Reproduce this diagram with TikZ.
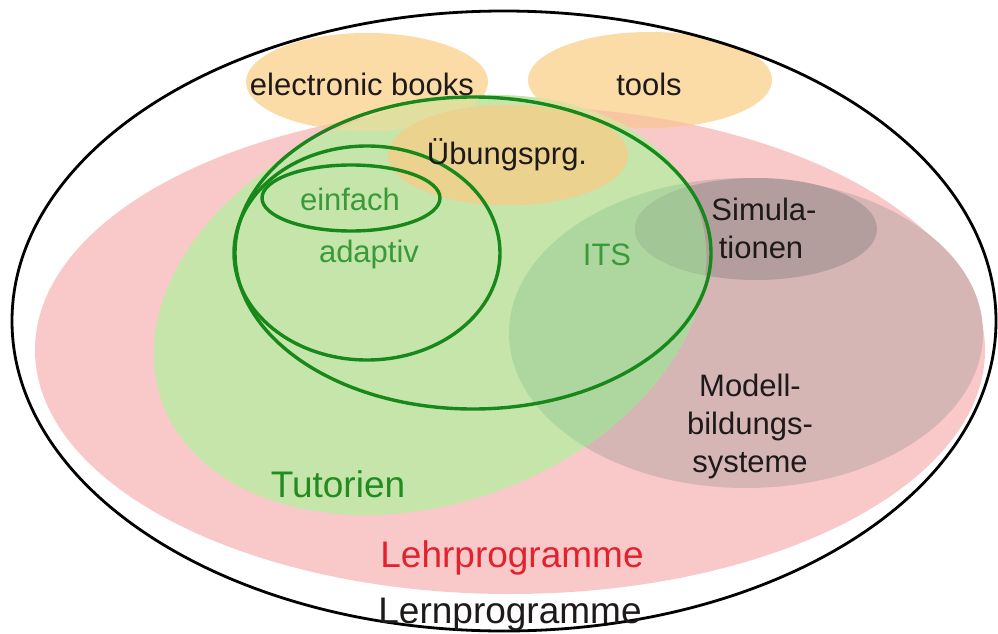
\documentclass[tikz,border=0pt]{standalone}
\usepackage{fontspec}
\setmainfont{Liberation Sans}
\definecolor{pinkfill}{HTML}{F9C9C9}
\definecolor{tutfill}{HTML}{C6E5AA}
\definecolor{orangefill}{HTML}{FCDCA6}
\definecolor{peachfill}{HTML}{F8C6A2}
\definecolor{tanfill}{HTML}{EBD28E}
\definecolor{yellowgreen}{HTML}{E0DFA0}
\definecolor{mauvefill}{HTML}{D6B5B5}
\definecolor{midgreen}{HTML}{AED79F}
\definecolor{simfill}{HTML}{B39D9D}
\definecolor{simgreen}{HTML}{A2C696}
\definecolor{ringgreen}{HTML}{16891A}
\definecolor{labelgreen}{HTML}{3A9A3A}
\definecolor{tutgreen}{HTML}{228B22}
\definecolor{lehrred}{HTML}{E2222E}
\definecolor{darktext}{HTML}{1E1A1A}
\begin{document}
\begin{tikzpicture}[x=1pt,y=-1pt,
  ring/.style={draw=ringgreen,line width=3.4pt},
  lbl/.style={font=\fontsize{31}{37}\selectfont,text=darktext,inner sep=0pt,anchor=base},
  biglbl/.style={font=\fontsize{37}{44}\selectfont,inner sep=0pt,anchor=base}]
% outlines of the sets
\def\outerset{(504,321) ellipse [x radius=492, y radius=310]}
\def\lehrset{(510,350) ellipse [x radius=475, y radius=244]}
\def\bookset{(367,82) ellipse [x radius=121, y radius=49]}
\def\toolset{(650,80) ellipse [x radius=122, y radius=48]}
\def\uebset{(508,155) ellipse [x radius=120, y radius=50]}
\def\tutset{(430,305) ellipse [x radius=285, y radius=198, rotate=20]}
\def\modset{(746,333) ellipse [x radius=237, y radius=155]}
\def\simset{(756,229) ellipse [x radius=121, y radius=51]}
\def\itsset{(473,253) ellipse [x radius=238, y radius=156]}
\def\adaset{(367,253) ellipse [x radius=133, y radius=107]}
\def\einset{(351,198) ellipse [x radius=89, y radius=33]}
\useasboundingbox (0,0) rectangle (998,634);
\fill[white] (0,0) rectangle (998,634);
% Lehrprogramme
\fill[pinkfill] \lehrset;
% electronic books and tools
\fill[orangefill] \bookset;
\fill[orangefill] \toolset;
\begin{scope}
  \clip \lehrset;
  \fill[peachfill] \bookset;
  \fill[peachfill] \toolset;
\end{scope}
% Modellbildungssysteme
\fill[mauvefill] \modset;
% Tutorien
\fill[tutfill] \tutset;
\begin{scope}
  \clip \tutset;
  \fill[midgreen] \modset;
  \fill[yellowgreen] \bookset;
  \fill[yellowgreen] \toolset;
\end{scope}
% Uebungsprogramme
\fill[peachfill] \uebset;
\begin{scope}
  \clip \tutset;
  \fill[tanfill] \uebset;
\end{scope}
% Simulationen
\fill[simfill] \simset;
\begin{scope}
  \clip \tutset;
  \fill[simgreen] \simset;
\end{scope}
% tutoring systems: ITS, adaptiv, einfach
\draw[ring] \itsset;
\draw[ring] \adaset;
\draw[ring] \einset;
% Lernprogramme
\draw[black,line width=2.8pt] \outerset;
% labels
\node[lbl] (books) at (362,95) {electronic books};
\node[lbl] (tools) at (649,95) {tools};
\node[lbl] (ueb) at (507,164) {Übungsprg.};
\node[lbl,text=labelgreen] (einfach) at (350,210) {einfach};
\node[lbl,text=labelgreen] (adaptiv) at (369,262) {adaptiv};
\node[lbl,text=labelgreen] (its) at (607,265) {ITS};
\node[lbl] (sim1) at (764,220) {Simula-};
\node[lbl] (sim2) at (761,258) {tionen};
\node[lbl] (mod1) at (750,396) {Modell-};
\node[lbl] (mod2) at (750,434) {bildungs-};
\node[lbl] (mod3) at (750,472) {systeme};
\node[biglbl,text=tutgreen] (tut) at (338,497) {Tutorien};
\node[biglbl,text=lehrred] (lehr) at (512,567) {Lehrprogramme};
\node[biglbl,text=darktext] (lern) at (510,623) {Lernprogramme};
\end{tikzpicture}
\end{document}
